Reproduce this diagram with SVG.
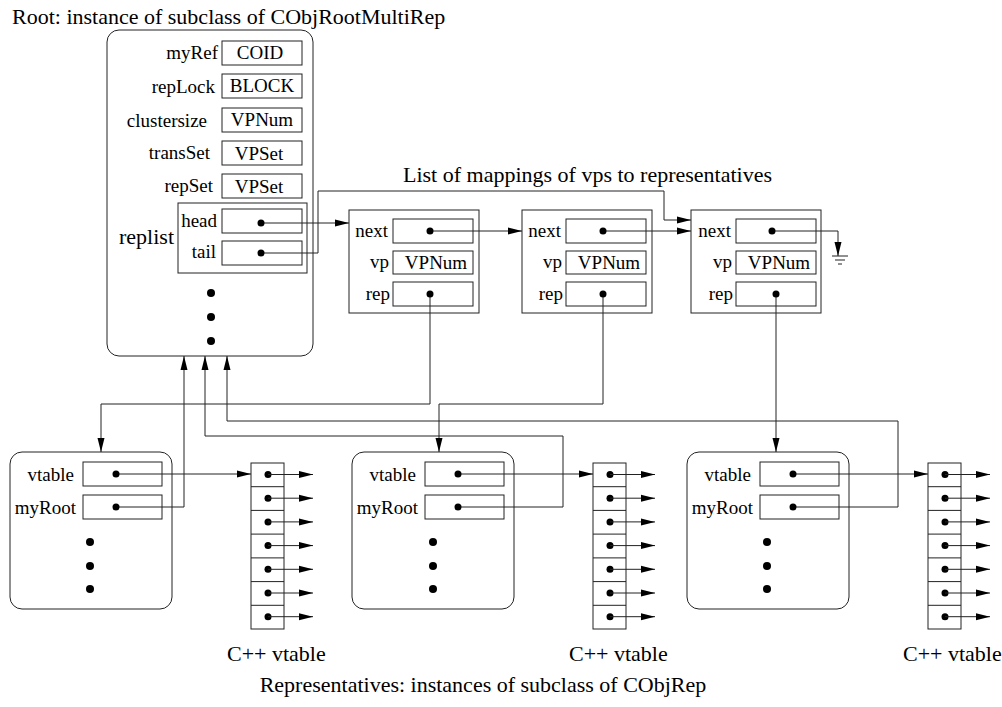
<svg xmlns="http://www.w3.org/2000/svg" xmlns:xlink="http://www.w3.org/1999/xlink" width="1002" height="707" viewBox="0 0 1002 707">
<style>
.t{font-family:"Liberation Serif","Times New Roman",serif;font-size:19px;fill:#000}
.big{font-size:22px}
.e{text-anchor:end}
.m{text-anchor:middle}
.b{fill:#fff;stroke:#222;stroke-width:1}
.ln{fill:none;stroke:#222;stroke-width:1}
.a{fill:none;stroke:#222;stroke-width:1;marker-end:url(#ah)}
.d{fill:#000}
</style>
<defs>
<marker id="ah" markerUnits="userSpaceOnUse" markerWidth="14" markerHeight="8" refX="14" refY="3.5" orient="auto" viewBox="0 0 14 7">
<path d="M0,0 L14,3.5 L0,7 z" fill="#000"/>
</marker>
<g id="vtarr">
<rect class="b" x="0" y="0" width="33" height="166"/>
<path class="ln" d="M0,23.7H33M0,47.4H33M0,71.1H33M0,94.9H33M0,118.6H33M0,142.3H33"/>
<circle class="d" cx="17" cy="11.5" r="3.5"/><circle class="d" cx="17" cy="35.2" r="3.5"/><circle class="d" cx="17" cy="58.9" r="3.5"/><circle class="d" cx="17" cy="82.6" r="3.5"/><circle class="d" cx="17" cy="106.3" r="3.5"/><circle class="d" cx="17" cy="130" r="3.5"/><circle class="d" cx="17" cy="153.7" r="3.5"/>
<path class="a" d="M17,11.5H62"/><path class="a" d="M17,35.2H62"/><path class="a" d="M17,58.9H62"/><path class="a" d="M17,82.6H62"/><path class="a" d="M17,106.3H62"/><path class="a" d="M17,130H62"/><path class="a" d="M17,153.7H62"/>
</g>
</defs>
<rect width="1002" height="707" fill="#fff"/>

<text class="t big" x="12" y="24">Root: instance of subclass of CObjRootMultiRep</text>
<text class="t big" x="403" y="182">List of mappings of vps to representatives</text>
<text class="t big m" x="483" y="692">Representatives: instances of subclass of CObjRep</text>

<g id="root">
<rect class="b" x="107" y="30" width="206" height="326" rx="12"/>
<text class="t e" x="218" y="59">myRef</text><rect class="b" x="222" y="41" width="80" height="24"/><text class="t m" x="260" y="59">COID</text>
<text class="t e" x="215" y="93">repLock</text><rect class="b" x="222" y="74" width="80" height="24"/><text class="t m" x="262" y="92">BLOCK</text>
<text class="t e" x="207" y="127">clustersize</text><rect class="b" x="222" y="108" width="80" height="24"/><text class="t m" x="262" y="126">VPNum</text>
<text class="t e" x="210" y="159">transSet</text><rect class="b" x="222" y="141" width="80" height="24"/><text class="t m" x="259" y="160">VPSet</text>
<text class="t e" x="213" y="192">repSet</text><rect class="b" x="222" y="174" width="80" height="24"/><text class="t m" x="259" y="193">VPSet</text>
<rect class="b" x="178" y="203" width="129" height="70"/>
<text class="t big" x="119" y="244">replist</text>
<text class="t e" x="217" y="227">head</text><rect class="b" x="222" y="209" width="80" height="24"/>
<text class="t e" x="216" y="258">tail</text><rect class="b" x="222" y="241" width="80" height="24"/>
<circle class="d" cx="211" cy="293" r="4"/><circle class="d" cx="211" cy="317" r="4"/><circle class="d" cx="211" cy="341" r="4"/>
</g>

<g id="map1">
<rect class="b" x="349" y="210" width="130" height="103"/>
<text class="t e" x="388" y="237">next</text><rect class="b" x="393" y="219" width="80" height="24"/>
<text class="t e" x="389" y="268">vp</text><rect class="b" x="393" y="251" width="80" height="23"/><text class="t m" x="436" y="269">VPNum</text>
<text class="t e" x="390" y="300">rep</text><rect class="b" x="393" y="282" width="80" height="24"/>
</g>
<g id="map2">
<rect class="b" x="522" y="210" width="130" height="103"/>
<text class="t e" x="561" y="237">next</text><rect class="b" x="566" y="219" width="80" height="24"/>
<text class="t e" x="562" y="268">vp</text><rect class="b" x="566" y="251" width="80" height="23"/><text class="t m" x="609" y="269">VPNum</text>
<text class="t e" x="563" y="300">rep</text><rect class="b" x="566" y="282" width="80" height="24"/>
</g>
<g id="map3">
<rect class="b" x="691" y="210" width="130" height="103"/>
<text class="t e" x="731" y="237">next</text><rect class="b" x="736" y="219" width="80" height="24"/>
<text class="t e" x="732" y="268">vp</text><rect class="b" x="736" y="251" width="80" height="23"/><text class="t m" x="779" y="269">VPNum</text>
<text class="t e" x="733" y="300">rep</text><rect class="b" x="736" y="282" width="80" height="24"/>
</g>

<g id="rep1">
<rect class="b" x="10" y="452" width="162" height="157" rx="12"/>
<text class="t e" x="74" y="481">vtable</text><rect class="b" x="83" y="462" width="79" height="24"/>
<text class="t e" x="76" y="514">myRoot</text><rect class="b" x="83" y="495" width="79" height="24"/>
<circle class="d" cx="90" cy="542" r="4"/><circle class="d" cx="90" cy="566" r="4"/><circle class="d" cx="90" cy="589" r="4"/>
</g>
<g id="rep2">
<rect class="b" x="352" y="452" width="162" height="157" rx="12"/>
<text class="t e" x="416" y="481">vtable</text><rect class="b" x="425" y="462" width="79" height="24"/>
<text class="t e" x="418" y="514">myRoot</text><rect class="b" x="425" y="495" width="79" height="24"/>
<circle class="d" cx="433" cy="542" r="4"/><circle class="d" cx="433" cy="566" r="4"/><circle class="d" cx="433" cy="589" r="4"/>
</g>
<g id="rep3">
<rect class="b" x="687" y="452" width="162" height="157" rx="12"/>
<text class="t e" x="751" y="481">vtable</text><rect class="b" x="760" y="462" width="79" height="24"/>
<text class="t e" x="753" y="514">myRoot</text><rect class="b" x="760" y="495" width="79" height="24"/>
<circle class="d" cx="767" cy="542" r="4"/><circle class="d" cx="767" cy="566" r="4"/><circle class="d" cx="767" cy="589" r="4"/>
</g>

<g id="vtable1"><use xlink:href="#vtarr" x="251" y="463"/><text class="t big" x="227" y="661">C++ vtable</text></g>
<g id="vtable2"><use xlink:href="#vtarr" x="593" y="463"/><text class="t big" x="569" y="661">C++ vtable</text></g>
<g id="vtable3"><use xlink:href="#vtarr" x="928" y="463"/><text class="t big" x="903" y="661">C++ vtable</text></g>

<g id="connectors">
<path class="a" d="M261,223H349"/>
<path class="a" d="M261,253H318V191H664V220H691"/>
<path class="a" d="M430,231H522"/>
<path class="a" d="M603,231H691"/>
<path class="a" d="M772,231H838V256"/>
<path class="ln" d="M832,256H848M835,260H845M838,264H842"/>
<path class="a" d="M430,294V404H101V452"/>
<path class="a" d="M603,294V404H439V452"/>
<path class="a" d="M776,294V452"/>
<path class="a" d="M116,474H251"/>
<path class="a" d="M458,474H593"/>
<path class="a" d="M793,474H928"/>
<path class="a" d="M116,507H184V356"/>
<path class="a" d="M458,507H563V436H205V356"/>
<path class="a" d="M793,507H898V421H227V356"/>
<circle class="d" cx="261" cy="223" r="3.5"/><circle class="d" cx="261" cy="253" r="3.5"/>
<circle class="d" cx="430" cy="231" r="3.5"/><circle class="d" cx="430" cy="294" r="3.5"/>
<circle class="d" cx="603" cy="231" r="3.5"/><circle class="d" cx="603" cy="294" r="3.5"/>
<circle class="d" cx="772" cy="231" r="3.5"/><circle class="d" cx="776" cy="294" r="3.5"/>
<circle class="d" cx="116" cy="474" r="3.5"/><circle class="d" cx="116" cy="507" r="3.5"/>
<circle class="d" cx="458" cy="474" r="3.5"/><circle class="d" cx="458" cy="507" r="3.5"/>
<circle class="d" cx="793" cy="474" r="3.5"/><circle class="d" cx="793" cy="507" r="3.5"/>
</g>
</svg>
